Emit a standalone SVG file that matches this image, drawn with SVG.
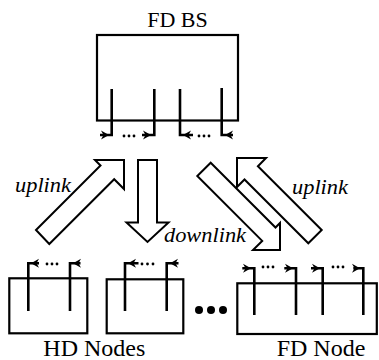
<svg xmlns="http://www.w3.org/2000/svg" xmlns:xlink="http://www.w3.org/1999/xlink" width="379" height="360" viewBox="0 0 379 360">
<style>
.box{fill:none;stroke:#000;stroke-width:2.2}
.ant{fill:none;stroke:#000;stroke-width:2.6}
.blk{fill:#fff;stroke:#000;stroke-width:2;stroke-linejoin:miter}
.dot{fill:#000}
</style>
<defs>
<path id="ah" d="M0,0 L-8,-4.5 L-5.5,0 L-8,4.5 Z" fill="#000"/>
</defs>
<rect width="379" height="360" fill="#fff"/>
<g id="fd-bs">
<rect class="box" x="97" y="35" width="141" height="85.5"/>
<path class="ant" d="M111.7,89 V135 H100"/>
<path class="ant" d="M154.3,89 V135 H142"/>
<path class="ant" d="M180,89 V135 H193"/>
<path class="ant" d="M221.7,88 V135 H233"/>
<use xlink:href="#ah" transform="translate(109,135)"/>
<use xlink:href="#ah" transform="translate(151,135)"/>
<use xlink:href="#ah" transform="translate(183,135) rotate(180)"/>
<use xlink:href="#ah" transform="translate(225,135) rotate(180)"/>
<circle class="dot" cx="124" cy="136" r="1.4"/><circle class="dot" cx="129" cy="136" r="1.4"/><circle class="dot" cx="134" cy="136" r="1.4"/>
<circle class="dot" cx="199" cy="136" r="1.4"/><circle class="dot" cx="204" cy="136" r="1.4"/><circle class="dot" cx="209" cy="136" r="1.4"/>
<text x="177.5" y="27" text-anchor="middle" font-family="Liberation Serif, Times New Roman, DejaVu Serif, serif" font-size="22">FD BS</text>
</g>
<g id="hd-node-1">
<rect class="box" x="9.3" y="278.3" width="78" height="55"/>
<path class="ant" d="M28.3,311 V263.3 H39"/>
<path class="ant" d="M70,311 V263.3 H80.5"/>
<use xlink:href="#ah" transform="translate(31,263.3) rotate(180)"/>
<use xlink:href="#ah" transform="translate(73,263.3) rotate(180)"/>
<circle class="dot" cx="47" cy="264" r="1.4"/><circle class="dot" cx="52" cy="264" r="1.4"/><circle class="dot" cx="57" cy="264" r="1.4"/>
</g>
<g id="hd-node-2">
<rect class="box" x="106.7" y="279.3" width="76.6" height="54"/>
<path class="ant" d="M125,311 V263.3 H138.5"/>
<path class="ant" d="M166.7,311 V263.3 H178.5"/>
<use xlink:href="#ah" transform="translate(128,263.3) rotate(180)"/>
<use xlink:href="#ah" transform="translate(170,263.3) rotate(180)"/>
<circle class="dot" cx="142" cy="264" r="1.4"/><circle class="dot" cx="147.5" cy="264" r="1.4"/><circle class="dot" cx="153" cy="264" r="1.4"/>
</g>
<g id="ellipsis">
<circle class="dot" cx="199" cy="310" r="4"/><circle class="dot" cx="211" cy="310" r="4"/><circle class="dot" cx="223" cy="310" r="4"/>
</g>
<g id="fd-node">
<rect class="box" x="237.3" y="283.3" width="139.5" height="50.7"/>
<path class="ant" d="M254.3,315 V268.3 H242.3"/>
<path class="ant" d="M296,315 V268.3 H284.3"/>
<path class="ant" d="M322.7,315 V268.3 H311"/>
<path class="ant" d="M363.3,315 V268.3 H353.3"/>
<use xlink:href="#ah" transform="translate(251,268.3)"/>
<use xlink:href="#ah" transform="translate(293,268.3)"/>
<use xlink:href="#ah" transform="translate(320,268.3)"/>
<use xlink:href="#ah" transform="translate(360,268.3)"/>
<circle class="dot" cx="263" cy="267" r="1.4"/><circle class="dot" cx="268" cy="267" r="1.4"/><circle class="dot" cx="273" cy="267" r="1.4"/>
<circle class="dot" cx="333" cy="267" r="1.4"/><circle class="dot" cx="338" cy="267" r="1.4"/><circle class="dot" cx="343" cy="267" r="1.4"/>
</g>
<g id="connectors">
<polygon class="blk" points="36,230 100.5,165.5 95,160 124,160 124,189 114.2,179.2 49.3,244"/>
<polygon class="blk" points="138,160 157,160 157,222.5 168.5,222.5 147.5,242 126.5,222.5 138,222.5"/>
<polygon class="blk" points="321.7,230 257.9,166.2 266,158 237,158 237,187 244.5,179.5 308.3,243.3"/>
<polygon class="blk" points="210.7,162.7 275.5,227.5 280,223 280,250 253,250 262.2,240.9 197.3,176"/>
<text x="15" y="191.5" font-family="Liberation Serif, Times New Roman, DejaVu Serif, serif" font-style="italic" font-size="20" textLength="56" lengthAdjust="spacingAndGlyphs">uplink</text>
<text x="164" y="242" font-family="Liberation Serif, Times New Roman, DejaVu Serif, serif" font-style="italic" font-size="20" textLength="82" lengthAdjust="spacingAndGlyphs">downlink</text>
<text x="292" y="193.5" font-family="Liberation Serif, Times New Roman, DejaVu Serif, serif" font-style="italic" font-size="20" textLength="56" lengthAdjust="spacingAndGlyphs">uplink</text>
</g>
<text x="43.3" y="356" font-family="Liberation Serif, Times New Roman, DejaVu Serif, serif" font-size="24">HD Nodes</text>
<text x="276.7" y="356" font-family="Liberation Serif, Times New Roman, DejaVu Serif, serif" font-size="24">FD Node</text>
</svg>
